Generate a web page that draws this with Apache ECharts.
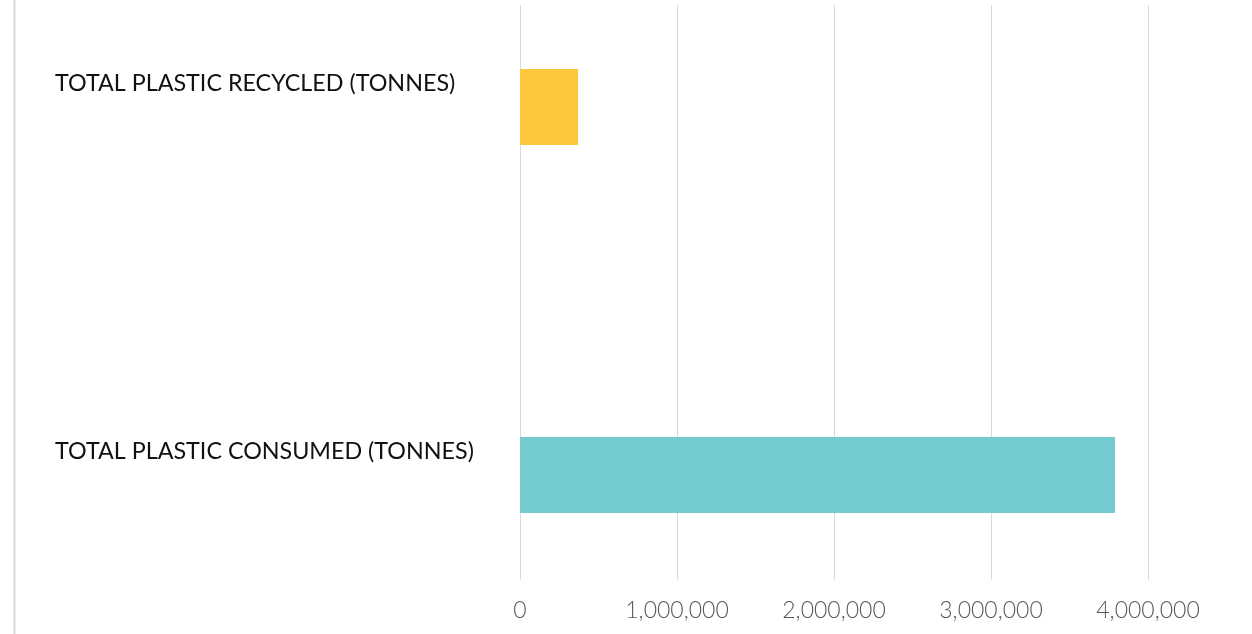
<!DOCTYPE html>
<html>
<head>
<meta charset="utf-8">
<script src="https://cdn.jsdelivr.net/npm/echarts@6/dist/echarts.min.js"></script>
<style>
html,body{margin:0;padding:0;background:#fff;}
#chart{width:1252px;height:634px;}
</style>
</head>
<body>
<div id="chart"></div>
<script>
const categories = ['TOTAL PLASTIC RECYCLED (TONNES)', 'TOTAL PLASTIC CONSUMED (TONNES)'];
const values = [370000, 3790000];
const barColors = ['#FDC73E', '#74CBCF'];
const xTicks = [0, 1000000, 2000000, 3000000, 4000000];

const chart = echarts.init(document.getElementById('chart'));
const fmt = v => v.toLocaleString('en-US');
chart.setOption({
  animation: false,
  backgroundColor: '#ffffff',
  graphic: [{
    type: 'line', shape: {x1: 14.5, y1: 0, x2: 14.5, y2: 634},
    style: {stroke: '#d9d9d9', lineWidth: 2}
  }],
  grid: [
    {left: 520, right: 104, top: 5, bottom: 54, outerBoundsMode: 'none'},
    {left: 520, right: 104, top: -77, bottom: -25, outerBoundsMode: 'none'}
  ],
  xAxis: [
    {
      gridIndex: 0, type: 'value', min: xTicks[0], max: xTicks[xTicks.length - 1], interval: 1000000,
      axisLine: {show: false}, axisTick: {show: false},
      splitLine: {show: true, lineStyle: {color: '#d9d9d9', width: 1}},
      axisLabel: {formatter: fmt, color: '#595959', fontSize: 23, fontFamily: 'Lato', fontWeight: 300, margin: 19}
    },
    {
      gridIndex: 1, type: 'value', min: xTicks[0], max: xTicks[xTicks.length - 1], show: false
    }
  ],
  yAxis: [
    {gridIndex: 0, type: 'category', data: categories, inverse: true, show: false},
    {
      gridIndex: 1, type: 'category', data: categories, inverse: true,
      axisLine: {show: false}, axisTick: {show: false},
      axisLabel: {align: 'left', verticalAlign: 'bottom', lineHeight: 48, margin: 465, color: '#111111', fontSize: 23.3, fontFamily: 'Lato'}
    }
  ],
  series: [{
    type: 'bar', xAxisIndex: 1, yAxisIndex: 1, barWidth: 76,
    data: values.map((v, i) => ({value: v, itemStyle: {color: barColors[i]}}))
  }]
});
</script>
</body>
</html>
